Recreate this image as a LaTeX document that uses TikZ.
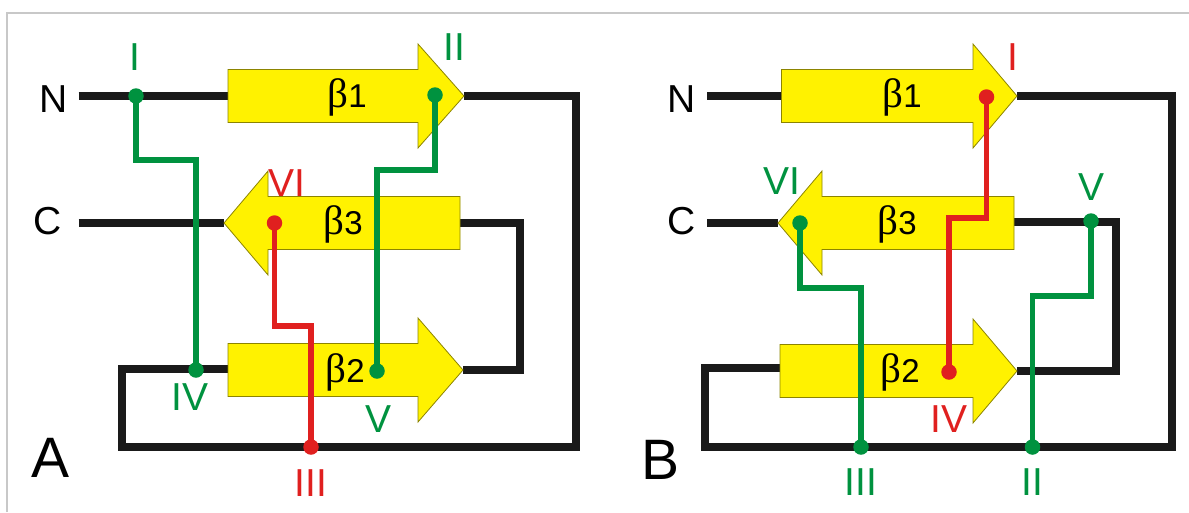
\documentclass[tikz,border=0pt]{standalone}
\usepackage{fontspec}
\newfontfamily\lsans{Liberation Sans}
\newfontfamily\lserif{Liberation Serif}
\definecolor{arrowyellow}{HTML}{FFF200}
\definecolor{arrowedge}{HTML}{8C8400}
\definecolor{sgreen}{HTML}{00923F}
\definecolor{sred}{HTML}{E0201F}
\definecolor{sblack}{HTML}{1A1A1A}
\definecolor{framegray}{HTML}{C8C8C8}
\newcommand{\strandshape}[4]{%
  \filldraw[strandbox] (#1,#4-26.5) -- (#2,#4-26.5) -- (#2,#4-52) -- (#3,#4)
    -- (#2,#4+52) -- (#2,#4+26.5) -- (#1,#4+26.5) -- cycle;}
\newcommand{\betaname}[1]{β{\lsans\fontsize{33}{33}\selectfont #1}}
\begin{document}
\begin{tikzpicture}[x=1pt,y=-1pt,
  strandbox/.style={fill=arrowyellow,draw=arrowedge,line width=0.8,line join=miter},
  bline/.style={draw=sblack,line width=8,line join=miter,line cap=butt},
  gline/.style={draw=sgreen,line width=5.5,line join=miter},
  rline/.style={draw=sred,line width=5.5,line join=miter},
  gdot/.style={circle,fill=sgreen,inner sep=0,minimum size=15.5},
  rdot/.style={circle,fill=sred,inner sep=0,minimum size=15.5},
  lab/.style={font=\lsans\fontsize{39}{39}\selectfont,inner sep=0},
  glab/.style={lab,text=sgreen},
  rlab/.style={lab,text=sred},
  betalab/.style={font=\lserif\fontsize{41}{41}\selectfont,inner sep=0},
  panellab/.style={font=\lsans\fontsize{57}{57}\selectfont,inner sep=0}]
\useasboundingbox (0,0) rectangle (1189,512);
\draw[framegray,line width=1.5] (7,512) -- (7,13) -- (1189,13);

% ---------------- Panel A ----------------
\coordinate (aN) at (78.5,96);
\coordinate (aC) at (78.5,223);
\coordinate (a1s) at (228,96);
\coordinate (a1t) at (464,96);
\coordinate (a2s) at (228,369);
\coordinate (a2t) at (463,370);
\coordinate (a3s) at (460,223);
\coordinate (a3t) at (224,223);
\coordinate (aR) at (576,447);
\coordinate (aL) at (122,447);
\coordinate (aM) at (520,223);
\draw[bline] (aN) -- (a1s);
\draw[bline] (aC) -- (a3t);
\draw[bline] (a1t) -| (aR) -- (aL) |- (a2s);
\draw[bline] (a2t) -| (aM) -- (a3s);
\strandshape{228}{418}{464}{96}
\strandshape{228}{418}{463}{370}
\strandshape{460}{268}{224}{223}
\node[betalab] (ab1) at (347,97) {\betaname{1}};
\node[betalab] (ab2) at (345,372) {\betaname{2}};
\node[betalab] (ab3) at (343,224) {\betaname{3}};
\node[lab] (aNl) at (54,99) {N};
\node[lab] (aCl) at (48,221) {C};
\node[panellab] (aA) at (51,458) {A};

\node[gdot] (aI) at (136,96) {};
\node[gdot] (aIV) at (196,370) {};
\node[gdot] (aII) at (435,95) {};
\node[gdot] (aV) at (377,371) {};
\node[rdot] (aVI) at (274.5,223) {};
\node[rdot] (aIII) at (311,447) {};
\draw[gline] (aI.center) -- ++(0,64) -| (aIV.center);
\draw[gline] (aII.center) -- ++(0,75) -| (aV.center);
\draw[rline] (aVI.center) -- ++(0,103) -| (aIII.center);
\node[glab] (aIl) at (135,57) {I};
\node[glab] (aIIl) at (454,47) {II};
\node[rlab] (aVIl) at (287,183) {VI};
\node[glab] (aIVl) at (190,397) {IV};
\node[glab] (aVl) at (379,419) {V};
\node[rlab] (aIIIl) at (311,483) {III};

% ---------------- Panel B ----------------
\coordinate (bN) at (707,96);
\coordinate (bC) at (707,223);
\coordinate (b1s) at (781.5,96);
\coordinate (b1t) at (1017,96);
\coordinate (b2s) at (780,368);
\coordinate (b2t) at (1017,371);
\coordinate (b3s) at (1014,222);
\coordinate (b3t) at (778,223);
\coordinate (bR) at (1172,447);
\coordinate (bL) at (705,447);
\coordinate (bM) at (1116,222);
\draw[bline] (bN) -- (b1s);
\draw[bline] (bC) -- (b3t);
\draw[bline] (b1t) -| (bR) -- (bL) |- (b2s);
\draw[bline] (b2t) -| (bM) -- (b3s);
\strandshape{781.5}{973}{1017}{96}
\strandshape{780}{973}{1017}{371}
\strandshape{1014}{822}{778}{223}
\node[betalab] (bb1) at (902,97) {\betaname{1}};
\node[betalab] (bb2) at (900,372) {\betaname{2}};
\node[betalab] (bb3) at (897,224) {\betaname{3}};
\node[lab] (bNl) at (682,99) {N};
\node[lab] (bCl) at (682,221) {C};
\node[panellab] (bB) at (661,460) {B};

\node[rdot] (bI) at (986.5,97) {};
\node[rdot] (bIV) at (949,372) {};
\node[gdot] (bVI) at (800,223) {};
\node[gdot] (bIII) at (861,447) {};
\node[gdot] (bV) at (1091,221) {};
\node[gdot] (bII) at (1032.5,447) {};
\draw[rline] (bI.center) -- ++(0,121) -| (bIV.center);
\draw[gline] (bVI.center) -- ++(0,65) -| (bIII.center);
\draw[gline] (bV.center) -- ++(0,75) -| (bII.center);
\node[rlab] (bIl) at (1013,57) {I};
\node[glab] (bVIl) at (782,181) {VI};
\node[glab] (bVl) at (1091,187) {V};
\node[rlab] (bIVl) at (949,419) {IV};
\node[glab] (bIIIl) at (861,482) {III};
\node[glab] (bIIl) at (1032.5,482) {II};
\end{tikzpicture}
\end{document}
